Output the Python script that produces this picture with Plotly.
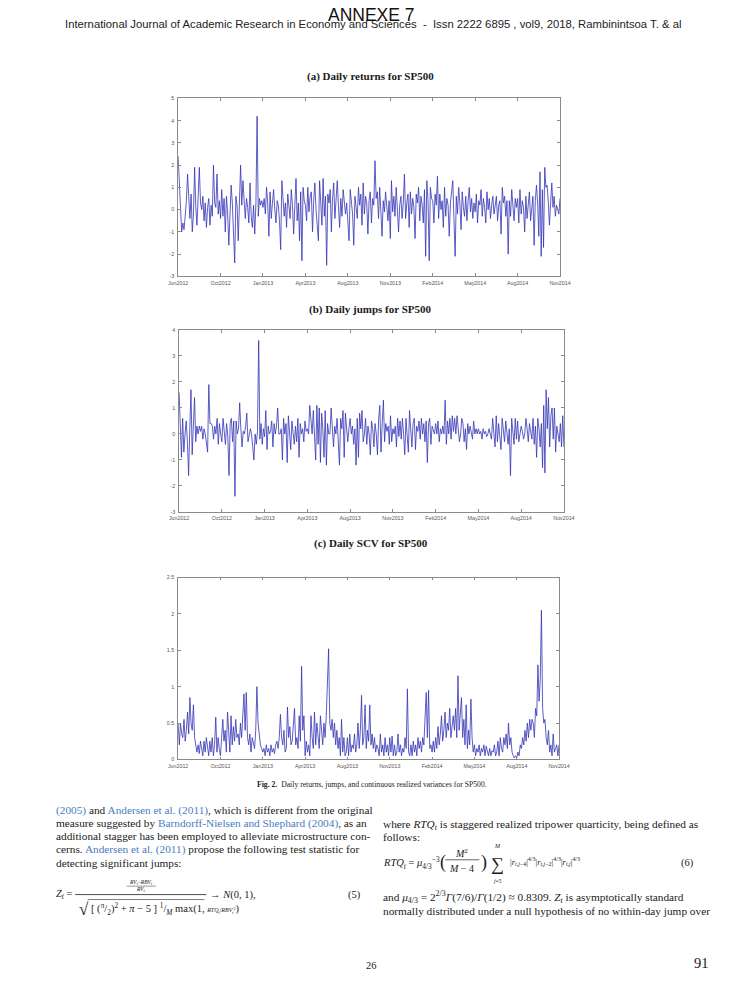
import plotly.graph_objects as go

W, H = 745, 993


def X(px):
    return px / W


def Y(py):
    return 1 - py / H


# ---------------- data ----------------
month_labels = ["Jun2012", "Oct2012", "Jan2013", "Apr2013", "Aug2013",
                "Nov2013", "Feb2014", "May2014", "Aug2014", "Nov2014"]

returns_sp500 = [
    2.4, 1.2, 0.5, -1.0, -0.6, -0.9, -0.3, 0.4, 1.6, 0.2, -0.4, 0.7, -1.0, -0.2, 1.9, 0.1, -0.7, 0.6, 1.9, 0.3, 0.0, 0.6, -0.5, 0.3, -0.8, 0.1, 0.5, -0.7, 0.2, -0.3, 2.0, 0.3, 0.1, 1.6, -0.2, 0.4,
    -0.4, 0.9, -0.3, 0.5, -1.0, 0.6, -0.2, -1.6, 0.2, 1.1, 0.3, -0.9, -2.4, 0.6, 0.2, -1.4, 0.5, 2.0, 0.2, 1.3, 0.4, -0.4, 0.5, 0.1, -0.6, 1.2, -0.3, -0.8, 0.2, -1.1, 0.3, 4.2, -0.3, 0.5, 0.2, 0.4,
    0.1, 0.5, -0.2, 1.0, 0.3, -1.2, 0.8, -0.4, 0.3, 0.9, 0.0, -0.6, 0.4, 0.2, -0.5, -1.8, 1.3, 0.5, -0.3, 0.3, -0.8, 0.7, 0.1, -0.4, 0.9, 0.2, -1.1, 0.6, 1.4, -0.5, 0.3, -1.4, 0.8, -2.3, 1.0, 0.4,
    0.2, -0.5, 1.0, -0.1, 0.6, 0.8, -1.0, 0.4, 1.2, 0.0, -0.6, -1.4, 1.3, 0.2, -0.7, 1.4, -0.3, 0.6, -2.5, 0.7, 0.3, 0.9, -1.0, 0.5, 1.2, -0.4, 0.6, 1.3, 0.2, -0.8, 0.5, -0.3, 0.9, 0.3, -0.2, 0.3,
    -0.6, -1.4, 0.9, 0.2, -0.2, -1.6, 0.6, 0.1, -0.4, 1.0, 0.2, 0.7, -0.7, 1.2, -0.2, 0.6, 0.3, -1.1, 0.4, 0.8, -0.6, 0.5, 0.2, 2.2, 0.5, 0.8, -0.4, 1.0, 0.1, -1.2, 0.4, -0.1, 0.8, 0.3, -0.5, 0.4,
    -1.3, 1.3, -0.1, 0.6, -0.3, 1.0, 0.2, -1.0, 0.2, 0.6, -0.4, 0.3, 1.6, -0.4, 0.3, 0.7, -0.8, 0.8, -0.2, 0.5, 0.1, -1.3, 0.7, 0.3, 1.0, -0.5, 0.6, 0.2, -0.6, 0.9, -2.1, 1.3, 0.4, -2.3, 1.0, 0.5,
    0.4, -0.6, 0.7, 0.2, 1.5, -0.4, 0.7, 0.0, 0.4, -0.8, 1.0, -0.3, 0.5, 0.2, -1.2, 0.3, 0.8, 1.3, -0.4, -2.1, 0.6, -0.2, 1.0, 0.3, -0.9, 0.8, 0.1, -0.3, 0.6, -0.5, 0.4, 1.0, -0.1, 0.5, -0.4, 0.3,
    -0.1, 0.7, -0.6, 0.4, 0.2, 0.9, -0.3, 0.5, 0.1, -0.6, 0.8, 0.0, 0.5, -0.4, 0.2, 0.6, -0.2, 0.3, 0.6, -0.5, 0.2, 0.4, -1.1, 1.0, 0.3, 0.6, -0.3, 0.4, -2.0, 0.4, -0.3, 0.9, 0.2, -0.5, 0.5, 0.1,
    0.5, -0.6, 0.9, -0.2, 0.4, 0.1, -1.0, 0.6, -0.4, 0.3, 0.8, -0.5, 0.2, 0.6, -1.6, 0.4, 1.1, 0.3, -1.2, 1.7, -2.1, 0.9, -1.7, 1.9, 1.0, 1.1, 0.4, -0.7, 0.3, 1.2, 0.1, 0.6, -0.3, 0.2, 0.0, -0.2, 0.5,
]

jumps_sp500 = [
    1.6, 0.1, -0.9, 0.6, -0.7, 0.0, 0.5, -0.3, -1.6, 0.2, 1.7, -0.8, 0.4, 1.4, -0.3, 0.3, 0.0, 0.3, 0.1, 0.3, -0.2, 0.2, 0.0, -0.4, -0.7, 1.9, 0.4, 0.4, 0.3, -0.2, 0.3, 0.0, 0.6, -0.4, 0.4, 0.0,
    -0.3, 0.6, 0.2, -0.4, 0.4, -0.1, -1.6, 0.4, 0.6, -0.3, 0.5, -2.4, 0.5, 0.0, 0.2, 1.2, 0.2, -0.5, 0.1, 0.0, 0.3, 0.8, -0.3, 0.0, 0.2, 0.0, -0.6, -1.0, 0.0, -0.4, 0.1, 3.6, -0.2, 0.4, -0.4, 0.2,
    -0.1, 0.9, -0.6, 0.3, 0.0, 0.1, 0.5, -0.5, 0.4, 0.0, 0.3, 1.0, 0.0, 0.0, 0.2, -1.0, 0.6, 0.0, 0.4, -1.1, 0.7, 0.2, -0.6, 0.5, 0.0, -0.4, 0.3, -0.3, 0.6, -0.9, 0.4, 0.0, 0.2, -0.3, 0.5, 0.1,
    0.2, 0.0, 1.1, 0.6, 0.0, 0.9, 0.1, -1.0, 1.1, -0.4, 1.0, -1.1, 0.8, 0.2, -0.9, 0.9, -1.2, 0.4, 0.0, 0.0, 1.0, 0.0, -0.5, 0.3, 0.0, 0.6, -0.3, -1.2, 0.6, 0.2, 0.9, -0.9, 0.8, 0.0, -0.3, 0.2,
    0.6, 0.0, 0.3, -0.4, 0.2, -1.2, 0.6, -0.9, 0.8, 0.2, 0.9, -0.3, 0.0, 0.6, -0.4, 0.3, 0.0, -0.8, 0.5, 0.2, -0.5, 0.4, 0.0, -0.8, 0.6, 1.1, -0.7, 0.4, 1.3, -0.3, 0.4, 0.1, 0.3, -0.4, 0.7, -0.3,
    0.2, 0.0, 0.3, -0.5, 0.6, -0.1, 0.5, -0.2, 0.6, 0.0, -0.8, 0.6, 0.0, -0.7, 0.9, 0.2, -0.5, 0.4, 0.6, -0.6, 0.3, 0.1, 0.5, -0.2, 0.6, 0.0, 0.4, -0.3, 0.5, -1.1, 0.4, 0.6, -0.4, 0.3, 0.1, 0.0,
    0.4, 0.0, 0.5, -0.3, 0.2, 0.0, 0.3, 0.0, 1.3, -0.4, 0.5, 0.0, 0.6, -0.2, 0.7, 0.1, 0.6, 0.0, 0.7, 0.3, -0.3, 0.0, 0.6, 0.4, -0.3, 0.2, -0.6, 0.4, 0.0, 0.3, 0.1, -0.2, 0.5, 0.0, 0.2, 0.0,
    0.2, 0.0, 0.1, -0.2, 0.2, 0.0, 0.1, -0.1, 0.0, 0.2, 0.0, -0.2, 0.6, 0.0, -0.5, 0.7, -0.3, 0.4, 0.0, -0.6, 0.6, 0.2, -0.3, 0.5, 0.0, -0.4, 0.2, -1.6, 0.6, 0.0, -0.4, 0.6, -0.2, 0.5, -0.3, 0.0,
    0.3, 0.1, -0.2, 0.0, 0.6, 0.2, -0.3, 0.4, 0.0, -0.2, 0.6, -0.4, 0.3, -0.9, 0.6, 0.2, -0.5, 0.4, -1.3, 1.1, -1.5, 1.7, 0.2, 1.4, -0.5, 0.7, 1.0, -0.2, 1.0, -0.7, 0.3, 0.0, -0.3, 0.4, -0.5, 0.7, -0.5,
]

scv_sp500 = [
    0.5, 0.2, 0.5, 0.35, 0.3, 0.55, 0.25, 0.4, 0.65, 0.35, 0.85, 0.5, 0.4, 0.75, 0.3, 0.2, 0.1, 0.2, 0.08, 0.25, 0.15, 0.05, 0.25, 0.1, 0.3, 0.15, 0.05, 0.25, 0.1, 0.3, 0.05, 0.2, 0.58, 0.1, 0.3, 0.15,
    0.05, 0.3, 0.55, 0.25, 0.4, 0.1, 0.65, 0.4, 0.1, 0.6, 0.2, 0.45, 0.25, 0.55, 0.3, 0.35, 0.2, 0.5, 0.3, 0.6, 0.9, 0.4, 0.92, 0.3, 0.2, 0.35, 0.1, 0.3, 0.2, 0.15, 0.4, 1.0, 0.5, 0.3, 0.2, 0.15,
    0.1, 0.15, 0.05, 0.2, 0.1, 0.15, 0.05, 0.2, 0.1, 0.15, 0.08, 0.2, 0.25, 0.15, 0.3, 0.62, 0.3, 0.2, 0.4, 0.1, 0.15, 0.72, 0.3, 0.45, 0.2, 0.25, 0.5, 0.7, 0.2, 0.3, 0.15, 0.6, 0.25, 1.28, 0.4, 0.6,
    0.05, 0.25, 0.1, 0.2, 0.05, 0.6, 0.3, 0.15, 0.65, 0.2, 0.5, 0.3, 0.15, 0.6, 0.4, 0.2, 0.5, 0.3, 0.6, 1.0, 1.52, 0.5, 0.4, 0.55, 0.3, 0.5, 0.2, 0.4, 0.15, 0.3, 0.05, 0.55, 0.1, 0.3, 0.05, 0.1,
    0.3, 0.05, 0.35, 0.1, 0.2, 0.15, 0.35, 0.1, 0.2, 0.5, 0.15, 0.4, 0.88, 0.2, 0.3, 0.75, 0.15, 0.4, 0.25, 0.75, 0.2, 0.35, 0.15, 0.3, 0.1, 0.2, 0.15, 0.05, 0.35, 0.1, 0.2, 0.05, 0.3, 0.1, 0.2, 0.05,
    0.3, 0.1, 0.32, 0.05, 0.2, 0.05, 0.1, 0.35, 0.1, 0.2, 0.05, 0.15, 0.1, 0.3, 0.15, 0.97, 0.1, 0.05, 0.2, 0.05, 0.25, 0.1, 0.2, 0.05, 0.3, 0.15, 0.25, 0.1, 0.3, 0.2, 0.5, 0.92, 0.3, 0.95, 0.15, 0.2,
    0.1, 0.25, 0.1, 0.3, 0.15, 0.45, 0.2, 0.35, 0.6, 0.25, 0.4, 0.65, 0.3, 0.5, 0.4, 0.7, 0.3, 0.5, 0.6, 0.4, 0.7, 0.3, 1.15, 0.4, 0.6, 0.85, 0.3, 0.55, 0.2, 0.75, 0.15, 0.4, 0.2, 0.83, 0.3, 0.1,
    0.2, 0.05, 0.15, 0.1, 0.2, 0.05, 0.15, 0.1, 0.2, 0.05, 0.18, 0.1, 0.05, 0.15, 0.05, 0.12, 0.1, 0.2, 0.05, 0.1, 0.25, 0.05, 0.3, 0.15, 0.1, 0.3, 0.2, 0.35, 0.15, 0.5, 0.2, 0.3, 0.1, 0.05, 0.02, 0.05,
    0.02, 0.1, 0.05, 0.2, 0.15, 0.3, 0.2, 0.4, 0.25, 0.5, 0.3, 0.55, 0.4, 0.55, 0.5, 0.3, 0.7, 0.6, 1.3, 0.8, 1.1, 2.05, 0.7, 0.5, 0.55, 0.3, 0.2, 0.4, 0.1, 0.2, 0.05, 0.35, 0.1, 0.15, 0.2, 0.05, 0.2,
]

returns_yticks = [-3, -2, -1, 0, 1, 2, 3, 4, 5]
jumps_yticks = [-3, -2, -1, 0, 1, 2, 3, 4]
scv_yticks = [0, 0.5, 1, 1.5, 2, 2.5]
scv_yticklabels = ["0", "0.5", "1", "1.5", "2", "2.5"]

# ---------------- figure ----------------
LINE_BLUE = "#3434b6"
AX_GREY = "#8a8a8a"
TICK_FONT = dict(family="Liberation Sans", size=5.3, color="#555555")
SERIF = "Liberation Serif"
LINK = "#4a7cc2"
BODY = 11.3

panels = [
    dict(y=returns_sp500, xpx=(173, 566), ypx=(96, 275), yr=[-3, 5],
         ytv=returns_yticks, ytt=[str(v) for v in returns_yticks],
         title="(a) Daily returns for SP500", ty=74),
    dict(y=jumps_sp500, xpx=(174, 570), ypx=(329, 512), yr=[-3, 4],
         ytv=jumps_yticks, ytt=[str(v) for v in jumps_yticks],
         title="(b) Daily jumps for SP500", ty=308),
    dict(y=scv_sp500, xpx=(173, 565), ypx=(578, 761), yr=[0, 2.5],
         ytv=scv_yticks, ytt=scv_yticklabels,
         title="(c) Daily SCV for SP500", ty=544),
]

fig = go.Figure()
layout = dict(width=W, height=H, autosize=False,
              margin=dict(l=0, r=0, t=0, b=0),
              paper_bgcolor="white", plot_bgcolor="white",
              showlegend=False)
annotations = []
shapes = []

for i, p in enumerate(panels, start=1):
    n = len(p["y"])
    xs = list(range(n))
    sfx = "" if i == 1 else str(i)
    fig.add_trace(go.Scatter(x=xs, y=p["y"], mode="lines",
                             line=dict(color=LINE_BLUE, width=0.8),
                             xaxis="x" + sfx, yaxis="y" + sfx,
                             hoverinfo="skip"))
    tickvals = [k * (n - 1) / (len(month_labels) - 1) for k in range(len(month_labels))]
    common = dict(showline=True, linecolor=AX_GREY, linewidth=0.8, mirror="ticks",
                  ticks="inside", ticklen=3, tickcolor=AX_GREY, tickwidth=0.8,
                  showgrid=False, zeroline=False, tickfont=TICK_FONT, fixedrange=True)
    layout["xaxis" + sfx] = dict(domain=[X(p["xpx"][0]), X(p["xpx"][1])],
                                 anchor="y" + sfx, range=[0, n - 1],
                                 tickvals=tickvals, ticktext=month_labels,
                                 ticklabelstandoff=1, **common)
    layout["yaxis" + sfx] = dict(domain=[Y(p["ypx"][1]), Y(p["ypx"][0])],
                                 anchor="x" + sfx, range=p["yr"],
                                 tickvals=p["ytv"], ticktext=p["ytt"],
                                 ticklabelstandoff=2, **common)
    annotations.append(dict(text="<b>" + p["title"] + "</b>", x=X(371), y=Y(p["ty"]),
                            xref="paper", yref="paper", showarrow=False,
                            font=dict(family=SERIF, size=11, color="#1a1a1a"),
                            xanchor="center", yanchor="middle"))


def txt(s, xpx, ypx, size=10, anchor="left", family=SERIF, color="#1a1a1a"):
    annotations.append(dict(text=s, x=X(xpx), y=Y(ypx), xref="paper", yref="paper",
                            showarrow=False, xanchor=anchor, yanchor="middle",
                            borderpad=0,
                            font=dict(family=family, size=size, color=color)))


def blue(s):
    return "<span style='color:%s'>%s</span>" % (LINK, s)


# header
txt("International Journal of Academic Research in Economy and Sciences  -  Issn 2222 6895 , vol9, 2018, Rambinintsoa T. & al",
    374, 21, size=11.3, anchor="center", family="Liberation Sans", color="#222222")
txt("ANNEXE 7", 372, 12, size=17.5, anchor="center", family="Liberation Sans", color="#111111")

# caption
txt("<b>Fig. 2.</b>  Daily returns, jumps, and continuous realized variances for SP500.",
    372, 786, size=7.7, anchor="center")

# left column
left_lines = [
    blue("(2005)") + " and " + blue("Andersen et al. (2011)") + ", which is different from the original",
    "measure suggested by " + blue("Barndorff-Nielsen and Shephard (2004)") + ", as an",
    "additional stagger has been employed to alleviate microstructure con-",
    "cerns. " + blue("Andersen et al. (2011)") + " propose the following test statistic for",
    "detecting significant jumps:",
]
for k, s in enumerate(left_lines):
    txt(s, 46, 812 + k * 13.2, size=BODY)

# equation (5)
txt("<i>Z<sub>t</sub></i> =", 46, 897, size=10.5)
txt("<i>RV<sub>t</sub></i>−<i>RBV<sub>t</sub></i>", 135, 885, size=5.5, anchor="center")
txt("<i>RV<sub>t</sub></i>", 135, 892, size=5.5, anchor="center")
shapes.append(dict(type="line", xref="paper", yref="paper", x0=X(120), x1=X(150),
                   y0=Y(888.5), y1=Y(888.5), line=dict(color="#333", width=0.5)))
shapes.append(dict(type="line", xref="paper", yref="paper", x0=X(67), x1=X(202),
                   y0=Y(897), y1=Y(897), line=dict(color="#222", width=0.8)))
txt("√", 70, 912, size=17)
shapes.append(dict(type="line", xref="paper", yref="paper", x0=X(80), x1=X(200),
                   y0=Y(902), y1=Y(902), line=dict(color="#222", width=0.6)))
txt("[ (<sup>π</sup>/<sub>2</sub>)<sup>2</sup> + <i>π</i> − 5 ] <sup>1</sup>/<sub><i>M</i></sub> max(1, <span style='font-size:6px'><i>RTQ<sub>t</sub></i>/<i>RBV<sub>t</sub></i><sup>2</sup></span>)",
    82, 912, size=10.5)
txt("→ <i>N</i>(0, 1),", 205, 897, size=10.5)
txt("(5)", 362, 897, size=10.5, anchor="right")

# right column
txt("where <i>RTQ<sub>t</sub></i> is staggered realized tripower quarticity, being defined as", 383, 827, size=BODY)
txt("follows:", 383, 839, size=BODY)

# equation (6)
txt("<i>RTQ<sub>t</sub></i> = <i>μ</i><sub>4/3</sub><sup>−3</sup>", 383, 865, size=10.5)
txt("(", 441, 865, size=18)
txt("<i>M</i><sup>2</sup>", 465, 855, size=10, anchor="center")
shapes.append(dict(type="line", xref="paper", yref="paper", x0=X(448), x1=X(483),
                   y0=Y(862), y1=Y(862), line=dict(color="#222", width=0.7)))
txt("<i>M</i> − 4", 465, 871, size=10, anchor="center")
txt(")", 484, 865, size=18)
txt("∑", 502, 866, size=18, anchor="center")
txt("<i>M</i>", 502, 848, size=6, anchor="center")
txt("<i>j</i>=5", 502, 883, size=5.5, anchor="center")
txt("|<i>r</i><sub><i>t,j</i>−4</sub>|<sup>4/3</sup>|<i>r</i><sub><i>t,j</i>−2</sub>|<sup>4/3</sup>|<i>r</i><sub><i>t,j</i></sub>|<sup>4/3</sup>",
    513, 864, size=8.5)
txt("(6)", 705, 865, size=10.5, anchor="right")

txt("and <i>μ</i><sub>4/3</sub> = 2<sup>2/3</sup><i>Γ</i>(7/6)/<i>Γ</i>(1/2) ≈ 0.8309. <i>Z<sub>t</sub></i> is asymptotically standard",
    383, 899.5, size=BODY)
txt("normally distributed under a null hypothesis of no within-day jump over", 383, 913.5, size=BODY)

# page numbers
txt("26", 372, 968, size=10.5, anchor="center")
txt("91", 712, 966, size=14.5, anchor="center")

layout["annotations"] = annotations
layout["shapes"] = shapes
fig.update_layout(**layout)
fig.write_html("out.html", config={"displayModeBar": False},
               post_script="document.body.style.margin='0px';document.body.style.overflow='hidden';")
